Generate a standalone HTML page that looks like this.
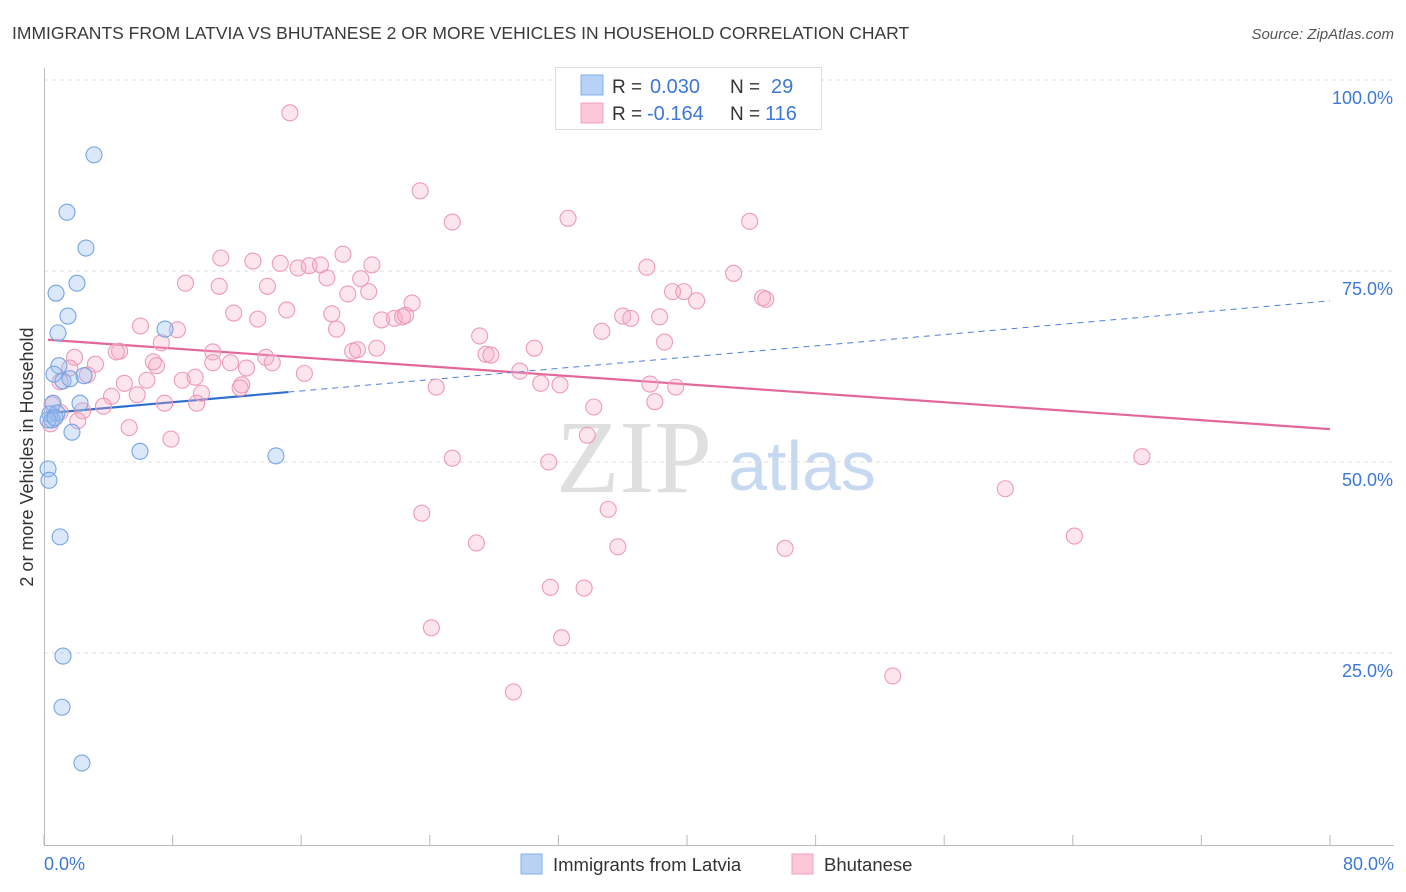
<!DOCTYPE html>
<html><head><meta charset="utf-8"><style>
body{margin:0;background:#fff;font-family:"Liberation Sans",sans-serif}
svg{display:block}
</style></head><body>
<svg id="c" width="1406" height="892" xmlns="http://www.w3.org/2000/svg">
<text x="12" y="39" font-size="17.5" fill="#3a3a3a">IMMIGRANTS FROM LATVIA VS BHUTANESE 2 OR MORE VEHICLES IN HOUSEHOLD CORRELATION CHART</text>
<text x="1394" y="39" font-size="15" font-style="italic" fill="#555" text-anchor="end">Source: ZipAtlas.com</text>
<text transform="translate(33,457) rotate(-90)" font-size="18" fill="#333" text-anchor="middle">2 or more Vehicles in Household</text>
<g>
<text x="634" y="492" font-size="104" font-family="Liberation Serif,serif" fill="#d8d8d8" text-anchor="middle" opacity="0.8">ZIP</text>
<text x="802" y="490" font-size="70" fill="#b9d0ee" text-anchor="middle" opacity="0.8">atlas</text>
</g>
<g id="grid"></g><g id="axes"></g><g id="lines"></g><g id="pts"></g>
<g>
<rect x="555.5" y="67.5" width="266" height="62" fill="#fff" stroke="#ddd"/>
<rect x="581" y="75" width="22" height="20" fill="#b8d2f6" stroke="#7fb0ec"/>
<rect x="581" y="103" width="22" height="20" fill="#fcc8d8" stroke="#f0a0bc"/>
<text x="612" y="93" font-size="19" fill="#333">R =</text><text x="650" y="93" font-size="20" fill="#3c78d8">0.030</text>
<text x="730" y="93" font-size="19" fill="#333">N =</text><text x="771" y="93" font-size="20" fill="#3c78d8">29</text>
<text x="612" y="120" font-size="19" fill="#333">R =</text><text x="647" y="120" font-size="20" fill="#3c78d8">-0.164</text>
<text x="730" y="120" font-size="19" fill="#333">N =</text><text x="765" y="120" font-size="20" fill="#3c78d8">116</text>
</g>
<g>
<rect x="521" y="854" width="21" height="20" fill="#b8d2f6" stroke="#7fb0ec"/>
<text x="553" y="871" font-size="18.5" fill="#333">Immigrants from Latvia</text>
<rect x="792" y="854" width="21" height="20" fill="#fcc8d8" stroke="#f0a0bc"/>
<text x="824" y="871" font-size="18.5" fill="#333">Bhutanese</text>
</g>
</svg>
<script>
const yTicks=[25,50,75,100];
const yTickLabels=["25.0%","50.0%","75.0%","100.0%"];
const xTickLabels=["0.0%","80.0%"];
const blueX=[3.11,1.43,2.61,2.05,0.75,1.49,0.87,7.53,0.93,0.62,2.49,1.18,1.62,2.24,0.56,0.37,0.81,0.50,0.25,1.74,5.97,14.43,0.25,0.31,1.0,1.18,1.12,2.36,0.68];
const blueY=[90.2,82.7,78.0,73.4,72.1,69.1,66.9,67.4,62.6,61.5,61.3,60.6,60.9,57.7,57.7,56.3,56.4,55.5,55.5,53.9,51.4,50.8,49.1,47.6,40.2,24.6,17.9,10.6,55.8];
const pinkX=[15.3,23.4,25.4,32.6,43.9,43.1,8.8,11.0,13.0,14.7,15.8,16.5,17.2,18.6,20.4,17.6,10.9,13.9,18.9,20.2,19.7,22.9,15.1,11.8,13.3,17.9,18.2,6.0,8.3,7.3,4.7,4.5,10.5,10.5,13.8,14.2,11.6,6.8,7.0,3.2,1.9,1.6,2.7,1.0,5.0,6.4,8.6,9.4,12.6,16.2,12.3,12.2,9.8,9.5,4.2,5.8,3.7,2.4,2.1,7.5,5.3,7.9,21.0,21.8,22.3,22.5,19.2,20.7,19.5,27.1,27.5,27.8,30.5,29.6,30.9,32.1,34.2,33.8,24.4,25.4,31.4,34.7,36.0,36.5,38.3,37.5,39.1,39.8,40.6,42.9,44.7,44.9,38.6,37.7,39.3,38.0,35.1,35.7,26.9,23.5,31.5,33.6,24.1,32.2,29.2,46.1,52.8,59.8,64.1,68.3,1.0,0.4,0.5];
const pinkY=[95.7,85.5,81.4,81.9,81.5,100,73.4,76.7,76.3,76.0,75.4,75.7,75.8,77.2,75.8,74.1,73.0,73.0,72.0,72.3,74.0,70.8,69.9,69.5,68.7,69.4,67.4,67.8,67.3,65.6,64.5,64.4,64.4,63.0,63.7,63.0,63.0,63.1,62.6,62.8,63.7,62.3,61.4,60.5,60.3,60.7,60.7,61.1,62.3,61.6,60.1,59.7,59.0,57.7,58.6,58.8,57.3,56.7,55.4,57.7,54.5,53.0,68.6,68.8,69.0,69.2,64.5,64.9,64.7,66.5,64.1,64.0,64.9,61.9,60.3,60.1,57.2,53.5,59.8,50.5,50.0,67.1,69.1,68.8,69.0,75.5,72.3,72.3,71.1,74.7,71.5,71.3,65.7,60.2,59.8,57.9,43.8,38.9,39.4,43.3,33.6,33.5,28.3,27.0,19.9,38.7,22.0,46.5,40.3,50.7,56.5,55.0,57.5];
const blueTrend=[56.4,71.1];
const blueSolidEnd=15.2;
const pinkTrend=[66.0,54.3];
const X=v=>44+v*16.075, Y=v=>844-v*7.64;
const NS="http://www.w3.org/2000/svg";
function mk(t,a,p){const e=document.createElementNS(NS,t);for(const k in a)e.setAttribute(k,a[k]);p.appendChild(e);return e;}
const grid=document.getElementById('grid'),axes=document.getElementById('axes'),lines=document.getElementById('lines'),pts=document.getElementById('pts');
yTicks.forEach((t,i)=>{
 const g=mk('line',{x1:44,x2:1394,y1:Y(t),y2:Y(t),stroke:'#ddd','stroke-dasharray':'4,4'},grid);
 
 
 const l=mk('text',{x:1393,y:Y(t)+24,'font-size':18,fill:'#3c78d8','text-anchor':'end'},axes);l.textContent=yTickLabels[i];
 
 
});
const ya=mk('line',{x1:44.5,x2:44.5,y1:68,y2:845,stroke:'#bbb'},axes);


const xa=mk('line',{x1:44,x2:1394,y1:845.5,y2:845.5,stroke:'#bbb'},axes);


for(let i=0;i<=10;i++){const tk=mk('line',{x1:X(i*8),x2:X(i*8),y1:835,y2:845,stroke:'#bbb'},axes);
 
 }
[[0,'start',44],[80,'end',1394]].forEach((d,i)=>{const l=mk('text',{x:d[2],y:870,'font-size':18,fill:'#3c78d8','text-anchor':d[1]},axes);l.textContent=xTickLabels[i];
 
 });
const bAt=x=>blueTrend[0]+(blueTrend[1]-blueTrend[0])*(x-0.25)/(80-0.25);
const pAt=x=>pinkTrend[0]+(pinkTrend[1]-pinkTrend[0])*(x-0.25)/(80-0.25);
function dot(x,y,fill,stroke,name){const c=mk('circle',{cx:X(x),cy:Y(y),r:8,fill:fill,stroke:stroke,'stroke-width':1.1},pts);
 
 }
pinkX.forEach((x,i)=>dot(x,pinkY[i],'rgba(248,170,195,0.3)','#ee9ab8','bhutanese-point'));
blueX.forEach((x,i)=>dot(x,blueY[i],'rgba(150,190,240,0.35)','#74a5e4','latvia-point'));
const pl=mk('line',{x1:X(0.25),y1:Y(pAt(0.25)),x2:X(80),y2:Y(pAt(80)),stroke:'#e2679a','stroke-width':2.2},lines);


const bd=mk('line',{x1:X(blueSolidEnd),y1:Y(bAt(blueSolidEnd)),x2:X(80),y2:Y(bAt(80)),stroke:'#4a80d6','stroke-width':1,'stroke-dasharray':'6,5'},lines);


const bs=mk('line',{x1:X(0.25),y1:Y(bAt(0.25)),x2:X(blueSolidEnd),y2:Y(bAt(blueSolidEnd)),stroke:'#2f6fd0','stroke-width':2.2},lines);


</script>
</body></html>
